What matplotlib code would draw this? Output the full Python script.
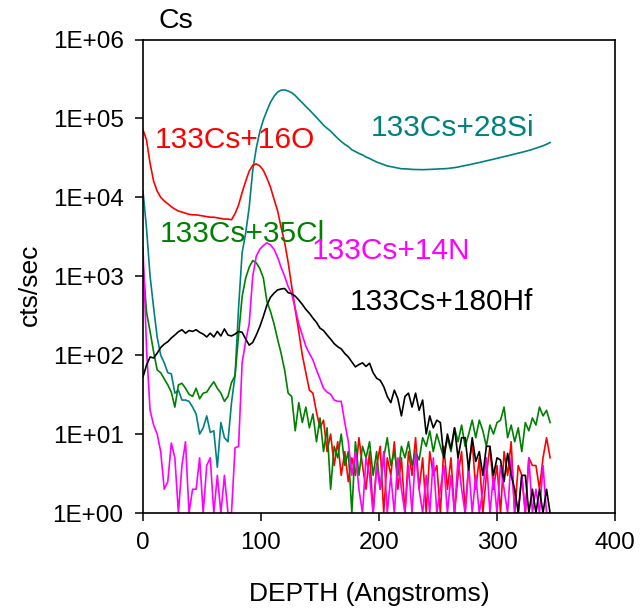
import matplotlib
matplotlib.use("Agg")
import matplotlib.pyplot as plt
import numpy as np

plt.rcParams['font.family'] = ['Liberation Sans', 'DejaVu Sans']

# depth grid (Angstroms), step 3
depth = list(range(0, 346, 3))

si28 = [12000, 4000, 1000, 400, 170, 100, 80, 60, 58, 33, 36, 27, 27, 26, 22, 18, 10, 12, 17, 10.5,
        11, 3.8, 14, 9, 8, 25, 55, 400, 2000, 3500, 7500, 22000, 42000, 68000, 96000, 125000, 160000, 190000, 215000, 228000,
        230000, 222000, 212000, 195000, 175000, 158000, 142000, 128000, 115000, 103000, 92000, 82000, 75000, 69000, 62000, 56000, 51000, 47000, 44000, 40000,
        38000, 36000, 34500, 32500, 31000, 29500, 28000, 27000, 26000, 25000, 24500, 24000, 23500, 23000, 23000, 22800, 22600, 22500, 22500, 22400,
        22500, 22600, 22700, 22800, 23000, 23000, 23200, 23500, 23800, 24200, 24800, 25300, 25800, 26400, 27000, 27600, 28300, 29000, 29700, 30400,
        31200, 32000, 32800, 33600, 34500, 35400, 36300, 37200, 38200, 39300, 40500, 42000, 43500, 45000, 47000, 49500]

o16 = [72000, 53000, 27000, 16000, 12000, 10000, 9000, 8300, 7600, 7100, 6700, 6500, 6300, 6100, 6000, 6000, 5900, 5800, 5700, 5600,
       5600, 5500, 5400, 5300, 5300, 5200, 6200, 8000, 11500, 16000, 21500, 25500, 26500, 25000, 22000, 17500, 13500, 9500, 6800, 4200,
       2700, 1500, 750, 380, 200, 100, 60, 36, 33, 19, 12, 15, 6, 10, 4, 8, 3, 6, 2.5, 5,
       3, 9, 4, 2, 6, 1, 4, 7, 1, 5, 3, 8, 2, 5, 1, 6, 3, 9, 2, 5,
       1, 6, 3, 4, 1, 7, 2, 5, 1, 3, 6, 1, 4, 8, 2, 5, 1, 3, 7, 2,
       4, 1, 6, 3, 8, 1, 4, 3, 1, 5, 4, 4, 2, 5, 9, 5]

n14 = [2300, 120, 20, 13, 10, 6, 2, 2.5, 7.7, 5, 1, 4, 8, 1, 2, 2, 5, 1, 4, 5,
       1, 3, 1, 3, 1, 1, 6.7, 7, 80, 150, 250, 1000, 1800, 2200, 2450, 2650, 2500, 2200, 1750, 1300,
       1000, 740, 600, 390, 250, 180, 130, 105, 87, 65, 50, 38, 34, 32, 27, 26, 26, 14, 8, 3,
       6, 2, 1, 5, 3, 1, 4, 2, 6, 1, 3, 1, 5, 2, 1, 4, 1, 6, 2, 1,
       3, 1, 5, 1, 2, 4, 1, 3, 1, 5, 2, 1, 4, 1, 3, 1, 2, 5, 1, 3,
       1, 4, 2, 1, 5, 1, 1, 3, 1, 5, 1, 2, 1, 4, 1, 1]

cl35 = [1400, 350, 200, 110, 65, 60, 50, 42, 34, 22, 42, 44, 38, 32, 30, 38, 28, 33, 34, 40,
        46, 38, 33, 26, 30, 45, 55, 180, 550, 950, 1300, 1580, 1480, 1250, 950, 480, 360, 250, 160, 106,
        65, 33, 30, 11, 25, 14, 22, 12, 18, 8, 16, 6, 12, 2, 7, 5, 10, 4, 6, 1,
        8, 3, 7, 5, 8, 3, 6, 2, 5, 9, 4, 6, 3, 7, 5, 8, 4, 6, 4.7, 9,
        7, 11, 6, 10, 7, 5, 9, 6, 12, 8, 13, 7, 10, 15, 9, 15, 11, 7, 13, 10,
        14, 15, 22, 9, 13, 8, 12, 6, 14, 11, 16, 13, 22, 17, 20, 14]

hf180 = [53, 75, 95, 92, 106, 125, 138, 148, 165, 180, 198, 210, 190, 205, 200, 210, 195, 185, 170, 190,
         170, 200, 175, 215, 180, 175, 185, 200, 195, 160, 134, 145, 180, 230, 310, 430, 540, 610, 670, 690,
         700, 620, 600, 560, 500, 440, 380, 340, 295, 260, 220, 205, 180, 160, 140, 128, 120, 105, 95, 82,
         71, 76, 80, 72, 79, 60, 51, 48, 40, 30, 25, 36, 28, 17, 30, 33, 22, 33, 20, 27,
         10, 17, 12, 15, 14, 5, 10, 6.5, 12, 5, 9, 9, 3.5, 9, 4.5, 6, 3, 7, 7, 3,
         5, 4.7, 2.5, 5.7, 3, 2, 1, 3, 3, 1, 2, 1, 2, 1, 2, 1]

series = [
    (si28, '#008080', '133Cs+28Si', 371, 135.5),
    (o16, '#FF0000', '133Cs+16O', 155, 148),
    (cl35, '#008000', '133Cs+35Cl', 160, 242.5),
    (n14, '#FF00FF', '133Cs+14N', 312, 259),
    (hf180, '#000000', '133Cs+180Hf', 350, 310.5),
]

ytick_vals = [1, 10, 100, 1000, 10000, 100000, 1000000]
ytick_labels = ['1E+00', '1E+01', '1E+02', '1E+03', '1E+04', '1E+05', '1E+06']
xtick_vals = [0, 100, 200, 300, 400]

W, H = 640, 609
fig = plt.figure(figsize=(W / 100, H / 100), dpi=100)
ax = fig.add_axes([143 / W, 1 - 513 / H, (615 - 143) / W, (513 - 39.5) / H])

for vals, col, lab, tx, ty in series:
    ax.plot(depth[:len(vals)], vals, color=col, lw=1.2, clip_on=True)
    fig.text(tx / W, 1 - ty / H, lab, color=col, fontsize=21.5, ha='left', va='baseline')

ax.set_yscale('log')
ax.set_ylim(1, 1e6)
ax.set_xlim(0, 400)
ax.set_yticks(ytick_vals)
ax.set_yticklabels(ytick_labels)
ax.yaxis.set_minor_locator(matplotlib.ticker.NullLocator())
ax.set_xticks(xtick_vals)
ax.tick_params(axis='both', direction='out', length=6, width=1.1, pad=8, labelsize=17.5,
               top=False, right=False)
for s in ax.spines.values():
    s.set_linewidth(1.2)
    s.set_color('black')

fig.text(369 / W, 1 - 594 / H, 'DEPTH (Angstroms)', fontsize=19, ha='center', va='center')
fig.text(30 / W, 1 - 285 / H, 'cts/sec', fontsize=19, ha='center', va='center', rotation=90)
fig.text(158 / W, 1 - 27.5 / H, 'Cs', fontsize=20.5, ha='left', va='baseline')

fig.savefig('out.png', dpi=100)
